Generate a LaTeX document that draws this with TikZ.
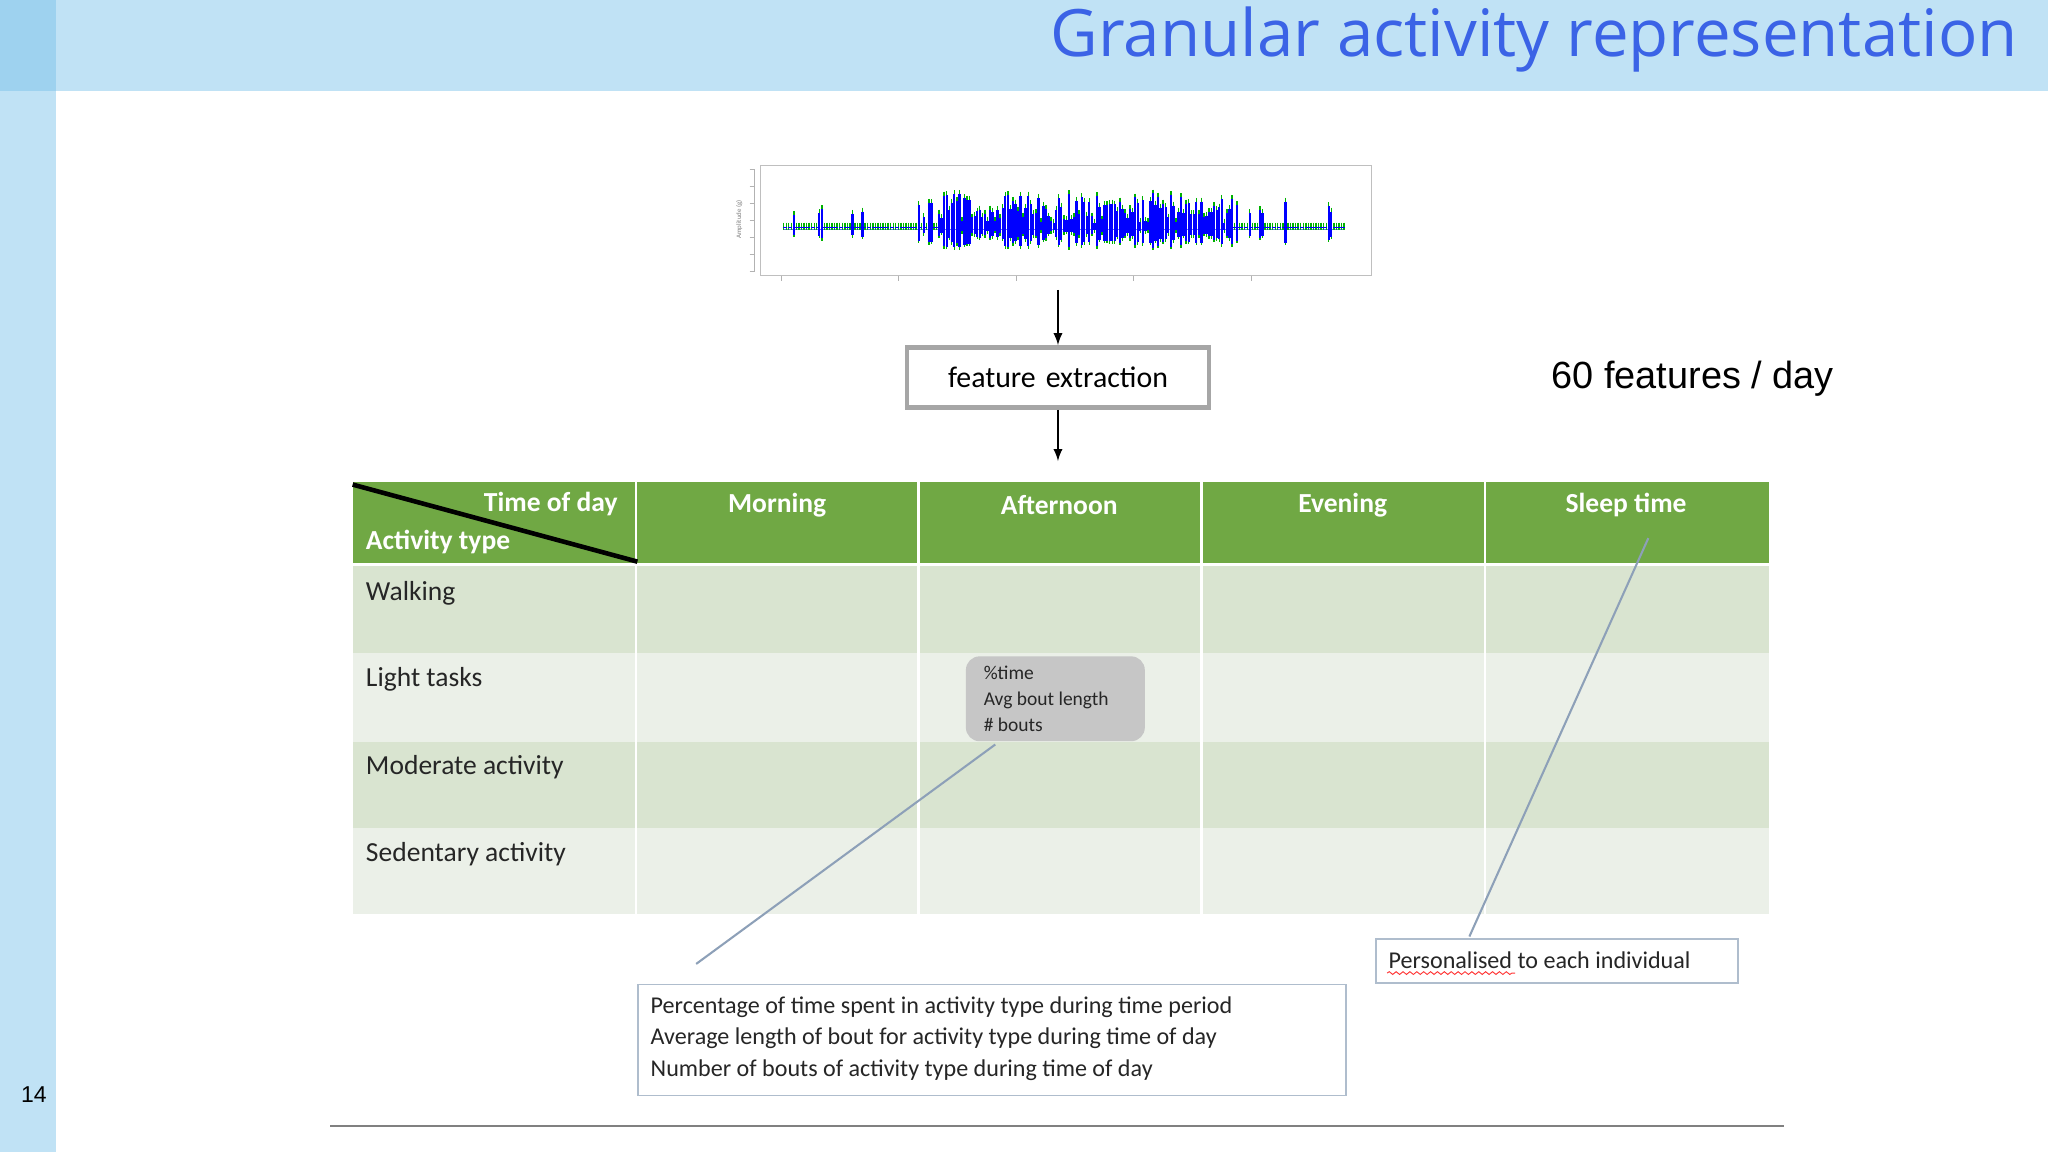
\documentclass[tikz,border=0pt]{standalone}
\usepackage{fontspec}
\usetikzlibrary{decorations.pathmorphing}
\setmainfont{Carlito}
\newfontfamily\titlefont{Open Sans}
\newfontfamily\arialf{Liberation Sans}
\definecolor{band}{HTML}{C0E2F5}
\definecolor{strip}{HTML}{9ED2EF}
\definecolor{ttl}{HTML}{3B63E6}
\definecolor{hdr}{HTML}{70A844}
\definecolor{rowa}{HTML}{D9E4D0}
\definecolor{rowb}{HTML}{EBF0E8}
\definecolor{lead}{HTML}{8DA0B8}
\begin{document}
\begin{tikzpicture}[x=0.02cm,y=-0.02cm,
  hdrtxt/.style={text=white,font=\fontsize{12}{14}\selectfont\bfseries},
  rowtxt/.style={anchor=west,text=black!85,font=\fontsize{12}{14}\selectfont},
  arr/.style={-{latex},thick}]
\useasboundingbox (0,0) rectangle (1568,882);
\fill[white] (0,0) rectangle (1568,882);
\fill[band] (0,0) rectangle (1568,70);
\fill[band] (0,0) rectangle (43,882);
\fill[strip] (0,0) rectangle (43,70);
\node[anchor=east,text=ttl,font=\titlefont\fontsize{28.5}{34}\selectfont] (title) at (1551,30) {Granular activity representation};
\node[font=\arialf\fontsize{10}{12}\selectfont] (pg) at (26,838) {14};
% plot
\draw[gray!50] (582,127) rectangle (1050,211);
\draw[gray!60] (578,130) -- (578,208);
\foreach \yy in {130,143,156,169,182,195,208} \draw[gray!60] (574,\yy) -- (578,\yy);
\node[rotate=90,font=\fontsize{3}{4}\selectfont,gray] (ylab) at (566,168) {Amplitude (g)};
\foreach \xx in {598,688,778,868,958} \draw[gray!60] (\xx,211) -- (\xx,215);
\draw[blue!60,line width=0.5pt] (600,176) -- (1030,176);
\pgfmathsetseed{7}
\foreach \i in {0,...,220}{
  \pgfmathsetmacro{\xx}{600+\i*1.95}
  \pgfmathsetmacro{\dense}{(\xx>718 && \xx<945) ? 1 : 0}
  \pgfmathsetmacro{\h}{\dense>0 ? (rnd<0.2 ? 3+6*rnd : 10+16*rnd) : (rnd<0.2 ? 6+14*rnd : 0.5)}
  \draw[green!70!black,line width=0.6pt] (\xx,174-\h-3) -- (\xx,174+\h*0.6+2);
  \draw[blue,line width=1pt] (\xx,174-\h) -- (\xx,174+\h*0.6);
}
% feature extraction
\node[draw=gray!70,line width=2pt,font=\fontsize{13}{15}\selectfont,inner sep=0pt,minimum height=0.92cm,text width=4.62cm,align=center] (fe) at (810,289) {feature extraction};
\coordinate (plotb) at (810,222);
\coordinate (tabt) at (810,353);
\draw[arr] (plotb) -- (fe.north);
\draw[arr] (fe.south) -- (tabt);
\node[font=\arialf\fontsize{16.5}{19}\selectfont] (feat) at (1296,290) {60 features / day};
% table
\fill[hdr] (270,369) rectangle (1354,432);
\fill[rowa] (270,432) rectangle (1354,500);
\fill[rowb] (270,500) rectangle (1354,568);
\fill[rowa] (270,568) rectangle (1354,634);
\fill[rowb] (270,634) rectangle (1354,700);
\foreach \xx in {487,703,920,1137} \draw[white,line width=1.2pt] (\xx,369) -- (\xx,700);
\draw[white,line width=1.5pt] (270,432) -- (1354,432);
\draw[black,line width=2pt] (270,371) -- (488,430);
\node[hdrtxt,anchor=east] (tod) at (479,386) {Time of day};
\node[hdrtxt,anchor=west] (at) at (274,415) {Activity type};
\node[hdrtxt] (m) at (595,387) {Morning};
\node[hdrtxt] (af) at (811,387) {Afternoon};
\node[hdrtxt] (ev) at (1028,387) {Evening};
\node[hdrtxt] (sl) at (1245,387) {Sleep time};
\node[rowtxt] (r1) at (274,454) {Walking};
\node[rowtxt] (r2) at (274,520) {Light tasks};
\node[rowtxt] (r3) at (274,587) {Moderate activity};
\node[rowtxt] (r4) at (274,654) {Sedentary activity};
\node[fill=gray!45,rounded corners=6pt,minimum width=137*0.02cm,minimum height=65*0.02cm,inner sep=0pt] (cell) at (808,535) {};
\node[anchor=west,align=left,font=\fontsize{8.5}{11.5}\selectfont,text=black!85] (celltxt) at (747,535) {\%time\\Avg bout length\\\# bouts};
% callouts
\node[draw=lead!70,line width=0.8pt,anchor=north west,minimum width=542*0.02cm,minimum height=85*0.02cm,inner sep=0pt] (desc) at (488,753) {};
\node[anchor=west,align=left,font=\fontsize{10.5}{13.8}\selectfont,text=black!85] (desctxt) at (492,795) {Percentage of time spent in activity type during time period\\Average length of bout for activity type during time of day\\Number of bouts of activity type during time of day};
\node[draw=lead!70,line width=0.8pt,anchor=north west,minimum width=277*0.02cm,minimum height=34*0.02cm,inner sep=0pt] (pers) at (1053,718) {};
\node[anchor=west,font=\fontsize{10.5}{13}\selectfont,text=black!85] (perstxt) at (1057,735) {Personalised to each individual};
\draw[red!80,decorate,decoration={snake,amplitude=0.6pt,segment length=3pt}] (1062,745) -- (1160,745);
\coordinate (l1a) at (762,570);
\coordinate (l1b) at (533,738);
\coordinate (l2a) at (1262,412);
\coordinate (l2b) at (1125,717);
\draw[lead,line width=0.9pt] (l1a) -- (l1b);
\draw[lead,line width=0.9pt] (l2a) -- (l2b);
\coordinate (bl1) at (253,862);
\coordinate (bl2) at (1366,862);
\draw[gray,line width=1pt] (bl1) -- (bl2);
\end{tikzpicture}
\end{document}
